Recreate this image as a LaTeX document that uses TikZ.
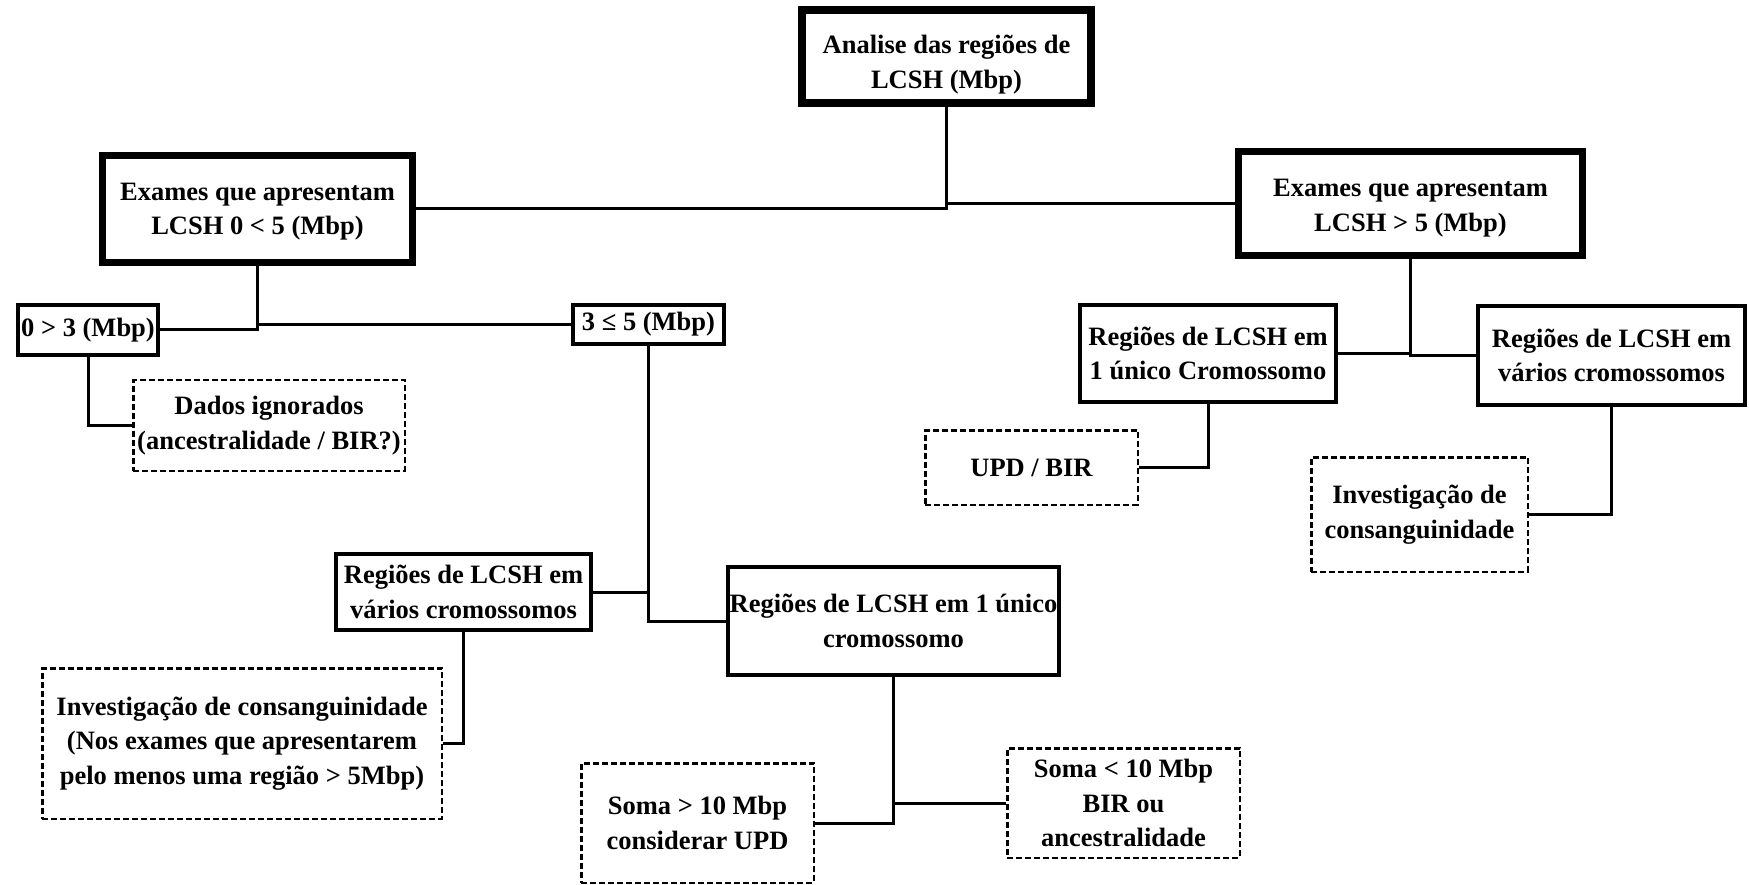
\documentclass[tikz,border=0pt]{standalone}
\usepackage{fontspec}
\setmainfont{Liberation Serif}
\begin{document}
\begin{tikzpicture}[x=1pt,y=-1pt,
  base/.style={align=center, font=\fontsize{26.5}{34.5}\selectfont\bfseries, inner sep=0pt, draw=black},
  topbox/.style={base, line width=8pt},
  bigbox/.style={base, line width=6.5pt},
  midbox/.style={base, line width=4pt},
  dashbox/.style={base, line width=2.5pt, dash pattern=on 6pt off 3pt},
  conn/.style={line width=3pt}]
\useasboundingbox[fill=white] (0,0) rectangle (1749,885);

\node[topbox, minimum width=289pt, minimum height=93pt] (top) at (946.5,56.5) {\rule{0pt}{35pt}Analise das regiões de\\LCSH (Mbp)};
\node[bigbox, minimum width=310pt, minimum height=107pt] (lexam) at (257.5,209) {\rule{0pt}{23pt}Exames que apresentam\\LCSH 0 < 5 (Mbp)};
\node[bigbox, minimum width=344pt, minimum height=104pt] (rexam) at (1410.5,203.5) {\rule{0pt}{27pt}Exames que apresentam\\LCSH > 5 (Mbp)};
\node[midbox, minimum width=140pt, minimum height=50pt] (b03) at (88,330) {0 > 3 (Mbp)};
\node[midbox, minimum width=151pt, minimum height=39pt] (b35) at (648.5,324.5) {3 ≤ 5 (Mbp)};
\node[dashbox, minimum width=271.5pt, minimum height=90.5pt] (dados) at (269,425.5) {Dados ignorados\\(ancestralidade / BIR?)};
\node[midbox, minimum width=256pt, minimum height=97pt] (runico) at (1208,353.5) {Regiões de LCSH em\\1 único Cromossomo};
\node[midbox, minimum width=267pt, minimum height=99pt] (rvarios) at (1611.5,355.5) {Regiões de LCSH em\\vários cromossomos};
\node[dashbox, minimum width=212.5pt, minimum height=74.5pt] (upd) at (1031.5,467.5) {UPD / BIR};
\node[dashbox, minimum width=216.5pt, minimum height=114.5pt] (invr) at (1419.5,514.5) {Investigação de\\consanguinidade};
\node[midbox, minimum width=255pt, minimum height=76pt] (lvarios) at (463.5,592) {Regiões de LCSH em\\vários cromossomos};
\node[midbox, minimum width=331pt, minimum height=108pt] (lunico) at (893.5,621) {Regiões de LCSH em 1 único\\cromossomo};
\node[dashbox, minimum width=399.5pt, minimum height=150.5pt] (invl) at (242,743.5) {Investigação de consanguinidade\\(Nos exames que apresentarem\\pelo menos uma região > 5Mbp)};
\node[dashbox, minimum width=232.5pt, minimum height=119.5pt] (somag) at (697.5,823) {Soma > 10 Mbp\\considerar UPD};
\node[dashbox, minimum width=232.5pt, minimum height=109.5pt] (somal) at (1123.5,803) {Soma < 10 Mbp\\BIR ou\\ancestralidade};

\draw[conn] (lexam.east) -| (top.south);
\draw[conn] (rexam.west) -| (top.south);
\draw[conn] (b03.east) -| (lexam.south);
\draw[conn] (b35.west) -| (lexam.south);
\draw[conn] (b03.south) |- (dados.west);
\draw[conn] (b35.south) |- (lvarios.east);
\draw[conn] (b35.south) |- (lunico.west);
\draw[conn] (lvarios.south) |- (invl.east);
\draw[conn] (lunico.south) |- (somal.west);
\draw[conn] (lunico.south) |- (somag.east);
\draw[conn] (rexam.south) |- (runico.east);
\draw[conn] (rexam.south) |- (rvarios.west);
\draw[conn] (runico.south) |- (upd.east);
\draw[conn] (rvarios.south) |- (invr.east);
\end{tikzpicture}
\end{document}
